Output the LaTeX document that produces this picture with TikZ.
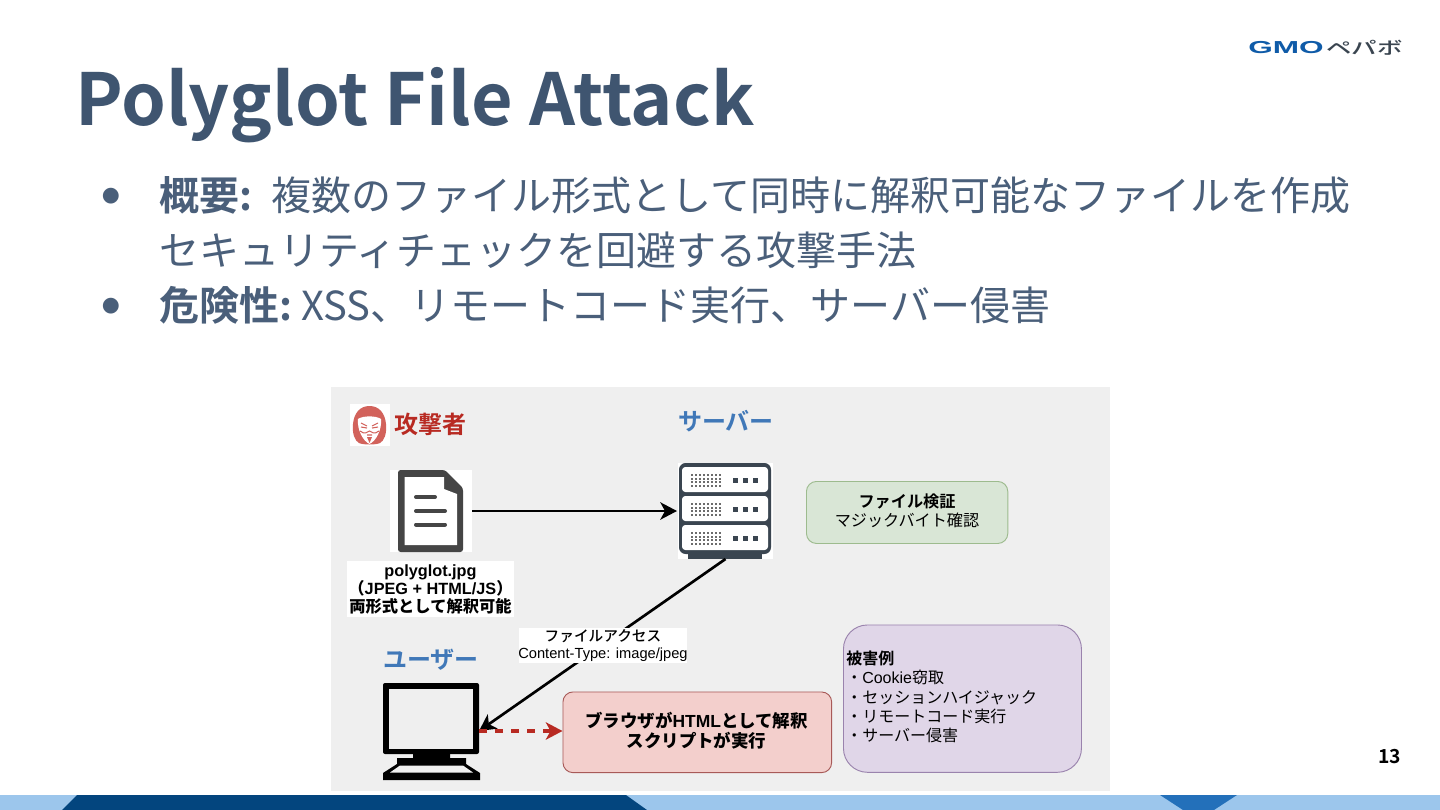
\documentclass[tikz,border=0pt]{standalone}
\usepackage{fontspec}
\setmainfont{Liberation Sans}
\newfontfamily\cjk{Noto Sans CJK JP}
\newfontfamily\cjkb{Noto Sans CJK JP Bold}
\newfontfamily\cjkm{Noto Sans CJK JP Medium}
\newfontfamily\dv{DejaVu Sans}
\usetikzlibrary{arrows.meta}
\definecolor{titlec}{HTML}{3F5570}
\definecolor{bodyc}{HTML}{4A5F7A}
\definecolor{panel}{HTML}{EFEFEF}
\definecolor{navy}{HTML}{03457E}
\definecolor{lblue}{HTML}{9CC6EC}
\definecolor{mblue}{HTML}{2370BA}
\definecolor{dark}{HTML}{3A4550}
\definecolor{docc}{HTML}{454545}
\definecolor{atk}{HTML}{B82A22}
\definecolor{face}{HTML}{D2625B}
\definecolor{srv}{HTML}{4078B8}
\definecolor{gmo}{HTML}{0F5BA8}
\definecolor{gfill}{HTML}{D9E6D6}
\definecolor{gline}{HTML}{9DBB8E}
\definecolor{rfill}{HTML}{F3CFCC}
\definecolor{rline}{HTML}{A85A58}
\definecolor{vfill}{HTML}{E0D6E8}
\definecolor{vline}{HTML}{9A83AD}
\tikzset{
  x=0.75pt,y=-0.75pt,
  ttl/.style={anchor=west,inner sep=0,text=titlec,font=\cjkb\fontsize{53.8}{54}\selectfont},
  bul/.style={anchor=west,inner sep=0,text=bodyc,font=\cjk\fontsize{30}{30}\selectfont},
  head/.style={inner sep=0,font=\cjkb\fontsize{18}{18}\selectfont},
  box/.style={draw,rounded corners=7.5pt,line width=0.7pt,inner sep=0,anchor=north west},
  lab/.style={inner sep=0,align=center,font=\fontsize{11}{13.2}\selectfont},
  arr/.style={-{Stealth[length=12.5pt,width=13pt,inset=3.5pt]},line width=2pt,black},
}
\newcommand{\jb}[1]{{\cjkb #1}}
\newcommand{\jr}[1]{{\cjk #1}}
\newcommand{\jm}[1]{{\cjkm #1}}
\begin{document}
\begin{tikzpicture}
\useasboundingbox (0,0) rectangle (1440,810);
\fill[white] (0,0) rectangle (1440,810);
% footer band
\fill[lblue] (0,795) rectangle (1440,810);
\fill[navy] (77,795) -- (626,795) -- (647,810) -- (62,810) -- cycle;
\fill[mblue] (1160,795) -- (1237,795) -- (1214,810) -- (1183,810) -- cycle;
% logo
\node[inner sep=0,anchor=west,text=gmo] (logo) at (1248,47.5) {\fontsize{13}{13}\selectfont\bfseries\addfontfeature{FakeStretch=1.82}GMO};
\node[inner sep=0,anchor=west,text=dark] (logo2) at (1326,47.5) {\fontsize{13}{13}\selectfont\cjkm\addfontfeature{FakeStretch=1.47}ペパボ};
% title and bullets
\node[ttl] (title) at (75,105) {Polyglot File Attack};
\node[inner sep=0,text=bodyc] (b1) at (111,196) {\dv\fontsize{15.5}{15.5}\selectfont ●};
\node[bul] (t1a) at (159,195.5) {\cjkb 概要:};
\node[bul] (t1b) at (271,195.5) {複数のファイル形式として同時に解釈可能なファイルを作成};
\node[bul] (t1c) at (159,250.5) {セキュリティチェックを回避する攻撃手法};
\node[inner sep=0,text=bodyc] (b2) at (111,306) {\dv\fontsize{15.5}{15.5}\selectfont ●};
\node[bul] (t2a) at (159,305.5) {\cjkb 危険性:};
\node[bul] (t2b) at (301,305.5) {XSS、リモートコード実行、サーバー侵害};
% page number
\node[inner sep=0,text=black] (pg) at (1389.5,757) {\cjkb\fontsize{14.5}{14.5}\selectfont 13};
% panel
\fill[panel] (331,387) rectangle (1110,791);
% attacker
\fill[white] (350,404) rectangle (390,446);
\fill[face] (369.5,406) .. controls (379,406) and (385,413) .. (386,424) .. controls (387,434) and (384,441) .. (380,443) .. controls (376,445) and (363,445) .. (359,443) .. controls (355,441) and (352,434) .. (353,424) .. controls (354,413) and (360,406) .. (369.5,406) -- cycle;
\fill[white] (358,419) .. controls (363,415.5) and (376,415.5) .. (381,419) .. controls (382,430) and (376,441) .. (369.5,444) .. controls (363,441) and (357,430) .. (358,419) -- cycle;
\draw[face,line width=0.8pt] (361,423) -- (367,426) (372,426) -- (378,423) (361,427) -- (367,428) (372,428) -- (378,427) (360,431) .. controls (365,435) and (367,432) .. (369.5,431) .. controls (372,432) and (374,435) .. (379,431) (367,435) -- (372,435);
\fill[face] (367,437) -- (372,437) -- (369.5,443) -- cycle;
\node[head,text=atk] (atkl) at (430.5,424.5) {攻撃者};
% server label
\node[head,text=srv] (srvl) at (726,421.5) {サーバー};
% document icon
\fill[white] (390,470) rectangle (472,552);
\fill[docc,rounded corners=2pt] (398,470) -- (445,470) -- (463,488) -- (463,552) -- (398,552) -- cycle;
\fill[white] (404.5,477) -- (444,477) -- (444,489) -- (457,494) -- (457,545) -- (404.5,545) -- cycle;
\draw[docc,line width=3pt,line cap=round] (416,497) -- (435,497) (416,511) -- (445,511) (416,524.5) -- (445,524.5);
\coordinate (doc) at (472,511);
% polyglot label
\fill[white] (347,561) rectangle (514,617);
\node[lab,font=\bfseries\fontsize{12.2}{13.5}\selectfont] (pl) at (430.5,589) {polyglot.jpg\\\jb{（}JPEG + HTML/JS\jb{）}\\\jm{両形式として解釈可能}};
% server icon
\fill[white] (678,463) rectangle (773,559);
\fill[dark] (688,550) rectangle (762,559);
\fill[dark,rounded corners=5pt] (679,463) rectangle (771,554);
\foreach \yy in {467,496,525}{
  \fill[white,rounded corners=2.5pt] (682,\yy) rectangle (768,\yy+25);
  \foreach \i in {0,...,7}\foreach \j in {0,...,3}{\fill[gray!85!black] (691+\i*4.05,\yy+7+\j*3.55) rectangle ++(2.1,2.1);}
  \foreach \i in {0,1,2}{\fill[dark] (733+\i*10,\yy+11) rectangle ++(4.6,4.6);}
}
\coordinate (server) at (677,511);
\coordinate (sb) at (725.5,559);
% file check
\node[box,fill=gfill,draw=gline,minimum width=151pt,minimum height=46.5pt] (check) at (806,481) {};
\node[lab,font=\fontsize{12.1}{14.2}\selectfont] (checkl) at (907,510.5) {\jb{ファイル検証}\\\jr{マジックバイト確認}};
% user label
\node[head,text=srv] (usrl) at (431,660) {ユーザー};
% monitor
\fill[black,rounded corners=1.5pt] (383,683) rectangle (479,754);
\fill[panel] (389,689) rectangle (473,749);
\fill[black] (413,754) rectangle (450,759) (397,758) rectangle (466,765);
\fill[black] (397,764) -- (466,764) -- (480,773) -- (480,780) -- (383,780) -- (383,773) -- cycle;
\fill[panel] (400,765.5) -- (463,765.5) -- (473,772.5) -- (390,772.5) -- cycle;
\coordinate (monitor) at (479,731);
% browser box
\node[box,fill=rfill,draw=rline,minimum width=201.5pt,minimum height=60.5pt] (browser) at (562.5,691.5) {};
\node[lab,font=\bfseries\fontsize{13.1}{15}\selectfont] (brl) at (696.5,731) {\jb{ブラウザが}HTML\jb{として解釈}\\\jb{スクリプトが実行}};
% damage box
\node[box,fill=vfill,draw=vline,rounded corners=18pt,minimum width=178.5pt,minimum height=110.5pt] (dmg) at (843,624.5) {};
\node[anchor=west,inner sep=0,align=left,font=\fontsize{12}{14.4}\selectfont] (dmgl) at (846,697) {\jb{被害例}\\\jr{・}Cookie\jr{窃取}\\\jr{・セッションハイジャック}\\\jr{・リモートコード実行}\\\jr{・サーバー侵害}};
% connectors
\draw[arr] (doc) -- (server);
\draw[arr] (sb) -- (monitor);
\draw[-{Stealth[length=12.5pt,width=13pt,inset=3.5pt]},line width=2.4pt,atk,dash pattern=on 6pt off 6pt] (monitor) -- (browser.west |- monitor);
\node[fill=white,inner sep=0,minimum width=126.5pt,minimum height=26pt] (fa) at (603,645.5) {};
\node[lab] (fal) at (603,645.5) {\jm{ファイルアクセス}\\Content-Type: image/jpeg};
\end{tikzpicture}
\end{document}
